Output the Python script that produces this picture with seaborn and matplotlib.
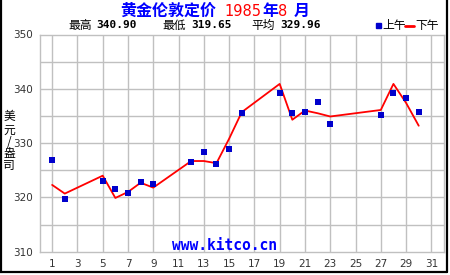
import matplotlib
matplotlib.use("Agg")
import matplotlib.pyplot as plt
import seaborn as sns
import pandas as pd
from matplotlib.lines import Line2D

# ---- data ----
days = [1, 2, 5, 6, 7, 8, 9, 12, 13, 14, 15, 16, 19, 20, 21, 22, 23, 27, 28, 29, 30]
am_fix = [326.8, 319.65, 323.1, 321.5, 320.8, 322.9, 322.4, 326.6, 328.4, 326.2, 329.0,
          335.5, 339.3, 335.5, 335.8, 337.6, 333.6, 335.2, 339.3, 338.3, 335.8]
pm_fix = [322.3, 320.7, 324.0, 319.9, 321.0, 322.7, 321.8, 326.7, 326.7, 326.3, 330.8,
          335.7, 340.9, 334.3, 336.0, 335.5, 334.9, 336.1, 340.9, 337.4, 333.2]
x_ticks = list(range(1, 32, 2))
y_ticks = [310, 320, 330, 340, 350]
title_main = "黄金伦敦定价"
title_year = "1985"
title_month = "8"
stats_labels = ["最高", "最低", "平均"]
stats_values = ["340.90", "319.65", "329.96"]
legend_labels = ["上午", "下午"]
y_label = "美元/盎司"
watermark = "www.kitco.cn"

df = pd.DataFrame({"day": days, "am": am_fix, "pm": pm_fix})

sns.set_style("white")
plt.rcParams["font.family"] = ["Noto Sans CJK SC", "DejaVu Sans"]

W, H = 450, 275
fig = plt.figure(figsize=(W / 100, H / 100), dpi=100)
fig.patch.set_facecolor("white")

left, right, top, bottom = 39.5, 444, 34.5, 251.7
ax = fig.add_axes([left / W, 1 - bottom / H, (right - left) / W, (bottom - top) / H])
ax.set_facecolor("white")

grid_c = "#c0c0c0"
ax.set_xlim(0, 32)
ax.set_ylim(310, 350)
for x in x_ticks:
    ax.axvline(x, color=grid_c, lw=1.0, zorder=0)
for y in range(315, 350, 5):
    ax.axhline(y, color=grid_c, lw=1.0, zorder=0)
for s in ax.spines.values():
    s.set_color(grid_c)
    s.set_linewidth(1.0)

sns.lineplot(data=df, x="day", y="pm", ax=ax, color="#ff0000", lw=1.3, zorder=3, legend=False)
sns.scatterplot(data=df, x="day", y="am", ax=ax, color="#0000cc", marker="s", s=24,
                linewidth=0, zorder=4, legend=False)

ax.set_xticks(x_ticks)
ax.set_yticks(y_ticks)
ax.set_xticklabels([str(v) for v in x_ticks])
ax.set_yticklabels([str(v) for v in y_ticks])
ax.tick_params(axis="both", length=0, labelsize=7.5, colors="#333333", pad=5)
for lab in ax.get_xticklabels() + ax.get_yticklabels():
    lab.set_family("DejaVu Sans")
ax.set_xlabel("")
ax.set_ylabel("")

# vertical stacked y label, one character per row
for ch, yc in zip(y_label, [117, 130, 142, 154, 166]):
    fig.text(9 / W, 1 - yc / H, ch, ha="center", va="center", fontsize=8.5, color="black")

# title pieces
ty = 1 - 11 / H
blue = "#0000ff"
red = "#ff0000"
fig.text(120 / W, ty, title_main, color=blue, fontsize=11.5, fontweight="bold", va="center", ha="left")
fig.text(224 / W, ty, title_year, color=red, fontsize=10.5, va="center", ha="left", family="DejaVu Sans")
fig.text(262 / W, ty, "年", color=blue, fontsize=11.5, fontweight="bold", va="center", ha="left")
fig.text(278 / W, ty, title_month, color=red, fontsize=10.5, va="center", ha="left", family="DejaVu Sans")
fig.text(294 / W, ty, "月", color=blue, fontsize=11.5, fontweight="bold", va="center", ha="left")

# stats row
sy = 1 - 25 / H
for xs, xv, lab, val in zip([68, 162, 251], [96, 191, 280], stats_labels, stats_values):
    fig.text(xs / W, sy, lab, fontsize=8.5, color="black", va="center", ha="left")
    fig.text(xv / W, sy, val, fontsize=8, color="black", va="center", ha="left",
             family="DejaVu Sans Mono", fontweight="bold")

# legend
fig.patches.append(plt.Rectangle((376 / W, 1 - 28 / H), 5 / W, 5 / H, transform=fig.transFigure,
                                 color="#0000cc", figure=fig))
fig.text(382 / W, sy, legend_labels[0], fontsize=8.5, color="black", va="center", ha="left")
fig.lines.append(Line2D([405 / W, 414 / W], [1 - 25.5 / H] * 2, transform=fig.transFigure,
                        color=red, lw=2, figure=fig))
fig.text(415 / W, sy, legend_labels[1], fontsize=8.5, color="black", va="center", ha="left")

# watermark
fig.text(225 / W, 1 - 246 / H, watermark, color=blue, fontsize=10.5, fontweight="bold",
         family="DejaVu Sans Mono", ha="center", va="center")

# outer black border (left, right, bottom)
for xs, ys in [([0.8, 0.8], [0, 272]), ([446.5, 446.5], [0, 272]), ([0, 447], [271.5, 271.5])]:
    fig.lines.append(Line2D([x / W for x in xs], [1 - y / H for y in ys], transform=fig.transFigure,
                            color="black", lw=1.6, figure=fig))

fig.savefig("out.png", dpi=100)
